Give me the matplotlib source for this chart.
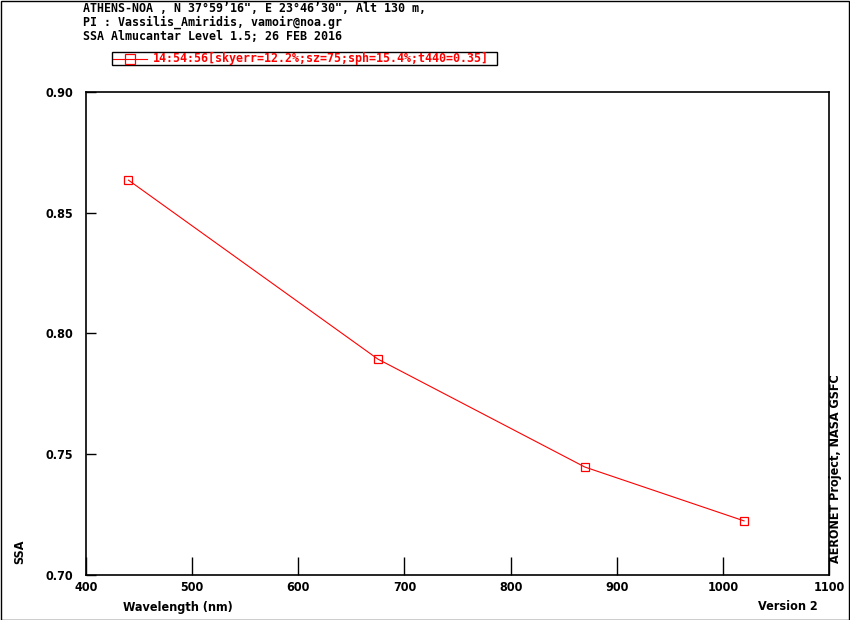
import matplotlib
matplotlib.use("Agg")
import matplotlib.pyplot as plt
from matplotlib.lines import Line2D
from matplotlib.patches import Rectangle

# data
wavelength = [440, 675, 870, 1020]
ssa = [0.8635, 0.7894, 0.7447, 0.7224]
x_ticks = [400, 500, 600, 700, 800, 900, 1000, 1100]
y_ticks = [0.70, 0.75, 0.80, 0.85, 0.90]

header = ["ATHENS-NOA , N 37\u00b059\u201916\", E 23\u00b046\u201930\", Alt 130 m,",
          "PI : Vassilis_Amiridis, vamoir@noa.gr",
          "SSA Almucantar Level 1.5; 26 FEB 2016"]
legend_text = "14:54:56[skyerr=12.2%;sz=75;sph=15.4%;t440=0.35]"

W, H = 850, 620
mono = dict(family="DejaVu Sans Mono", weight="bold", size=8.37)
narrow = dict(family="DejaVu Sans", stretch="condensed", weight="bold", size=9)

fig = plt.figure(figsize=(W / 100, H / 100), dpi=100)
fig.patch.set_facecolor("white")

# outer border
fig.add_artist(Rectangle((0.5 / W, 0.5 / H), 1 - 1.5 / W, 1 - 1.5 / H, transform=fig.transFigure,
                         fill=False, edgecolor="black", linewidth=1))

ax = fig.add_axes([86 / W, 1 - 575 / H, 743 / W, 483 / H])
ax.plot(wavelength, ssa, color="red", linewidth=0.8, marker="s", markersize=6.3,
        markerfacecolor="none", markeredgecolor="red", markeredgewidth=0.9)
ax.set_xlim(400, 1100)
ax.set_ylim(0.70, 0.90)
ax.set_xticks(x_ticks)
ax.set_yticks(y_ticks)
ax.set_xticklabels([str(v) for v in x_ticks], **narrow)
ax.set_yticklabels(["%.2f" % v for v in y_ticks], **narrow)
ax.tick_params(axis="x", direction="in", length=13, width=1, pad=4, top=False)
ax.tick_params(axis="y", direction="in", length=7, width=1, pad=9, right=False)
for s in ax.spines.values():
    s.set_linewidth(1.2)

# header lines
for i, line in enumerate(header):
    fig.text(83 / W, 1 - (9 + i * 13.5) / H, line, va="center", ha="left", color="black", **mono)

# legend box
lx0, lx1, ly0, ly1 = 112, 497, 52, 65
fig.add_artist(Rectangle((lx0 / W, 1 - ly1 / H), (lx1 - lx0) / W, (ly1 - ly0) / H,
                         transform=fig.transFigure, fill=False, edgecolor="black", linewidth=1))
fig.add_artist(Line2D([113 / W, 147 / W], [1 - 58.5 / H, 1 - 58.5 / H], transform=fig.transFigure,
                      color="red", linewidth=0.8, marker="none"))
fig.add_artist(Line2D([129.5 / W], [1 - 58.5 / H], transform=fig.transFigure, color="red",
                      marker="s", markersize=7, markerfacecolor="none", markeredgecolor="red",
                      markeredgewidth=0.9, linestyle="none"))
fig.text(153 / W, 1 - 58.5 / H, legend_text, va="center", ha="left", color="red", **mono)

# axis labels
fig.text(123 / W, 1 - 607 / H, "Wavelength (nm)", va="center", ha="left", **narrow)
fig.text(818 / W, 1 - 607 / H, "Version 2", va="center", ha="right", **narrow)
fig.text(20 / W, 1 - 552 / H, "SSA", va="center", ha="center", rotation=90, **narrow)
fig.text(836 / W, 1 - 563 / H, "AERONET Project, NASA GSFC", va="bottom", ha="center",
         rotation=90, **narrow)

fig.savefig("out.png", dpi=100)
